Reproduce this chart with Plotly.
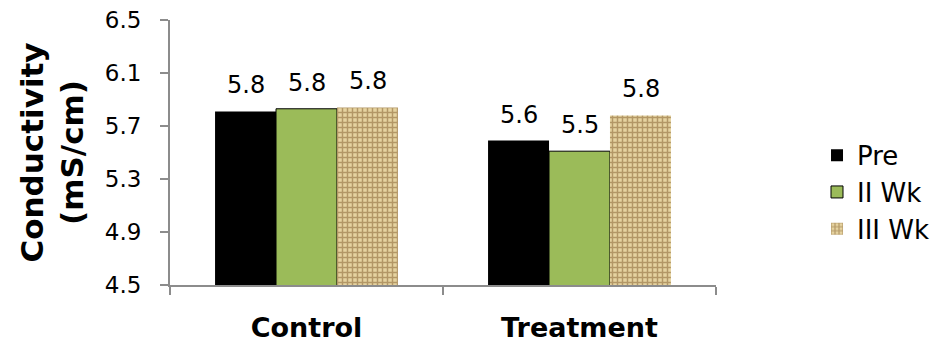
import plotly.graph_objects as go

categories = ["Control", "Treatment"]
series_names = ["Pre", "II Wk", "III Wk"]
pre_values = [5.81, 5.59]
wk2_values = [5.83, 5.51]
wk3_values = [5.84, 5.78]
y_ticks = [4.5, 4.9, 5.3, 5.7, 6.1, 6.5]

FONT = "DejaVu Sans"
AXIS_GREY = "#8c8c8c"
BAR_SLOT_PX = 61  # pixel width of one bar within a group

series_values = [pre_values, wk2_values, wk3_values]
markers = [
    dict(color="#000000", line=dict(width=0)),
    dict(color="#9bbb59", line=dict(color="#000000", width=1)),
    dict(color="#d8c089", line=dict(width=0),
         pattern=dict(shape="+", bgcolor="#e6d3a0", fgcolor="#7f5c2c",
                      size=5, solidity=0.5, fillmode="overlay")),
]

fig = go.Figure()
for name, vals, mk in zip(series_names, series_values, markers):
    fig.add_trace(go.Bar(name=name, x=categories, y=vals, marker=mk))

# value labels above each bar
for i, vals in enumerate(series_values):
    for cat, v in zip(categories, vals):
        fig.add_annotation(
            x=cat, y=v, xref="x", yref="y",
            text=f"{v:.1f}", showarrow=False,
            xshift=(i - 1) * BAR_SLOT_PX, yshift=10, yanchor="bottom",
            font=dict(family=FONT, size=24, color="#000000"),
        )

fig.update_layout(
    width=948, height=346,
    margin=dict(l=170, r=232, t=20, b=61, autoexpand=False),
    paper_bgcolor="white", plot_bgcolor="white",
    barmode="group", bargap=0.33, bargroupgap=0,
    font=dict(family=FONT, color="#000000"),
    showlegend=True,
    legend=dict(
        x=1.185, xanchor="left", y=0.35, yanchor="middle",
        font=dict(family=FONT, size=26, color="#000000"),
        itemwidth=30, tracegroupgap=0,
        bgcolor="rgba(0,0,0,0)",
    ),
    xaxis=dict(
        automargin=False,
        showline=True, linecolor=AXIS_GREY, linewidth=2,
        ticks="outside", tickson="boundaries", ticklen=8,
        tickcolor=AXIS_GREY, tickwidth=2,
        tickfont=dict(family=FONT, size=27, color="#000000", weight="bold"),
        ticklabelstandoff=18,
        showgrid=False,
    ),
    yaxis=dict(
        automargin=False,
        range=[4.5, 6.5], tickvals=y_ticks,
        ticktext=[f"{v:.1f}" for v in y_ticks],
        showline=True, linecolor=AXIS_GREY, linewidth=2,
        ticks="outside", ticklen=8, tickcolor=AXIS_GREY, tickwidth=2,
        tickfont=dict(family=FONT, size=23, color="#000000"),
        ticklabelstandoff=14,
        showgrid=False, zeroline=False,
        title=dict(text="Conductivity<br>(mS/cm)",
                   font=dict(family=FONT, size=31, color="#000000", weight="bold"),
                   standoff=12),
    ),
)

fig.write_html("out.html")
